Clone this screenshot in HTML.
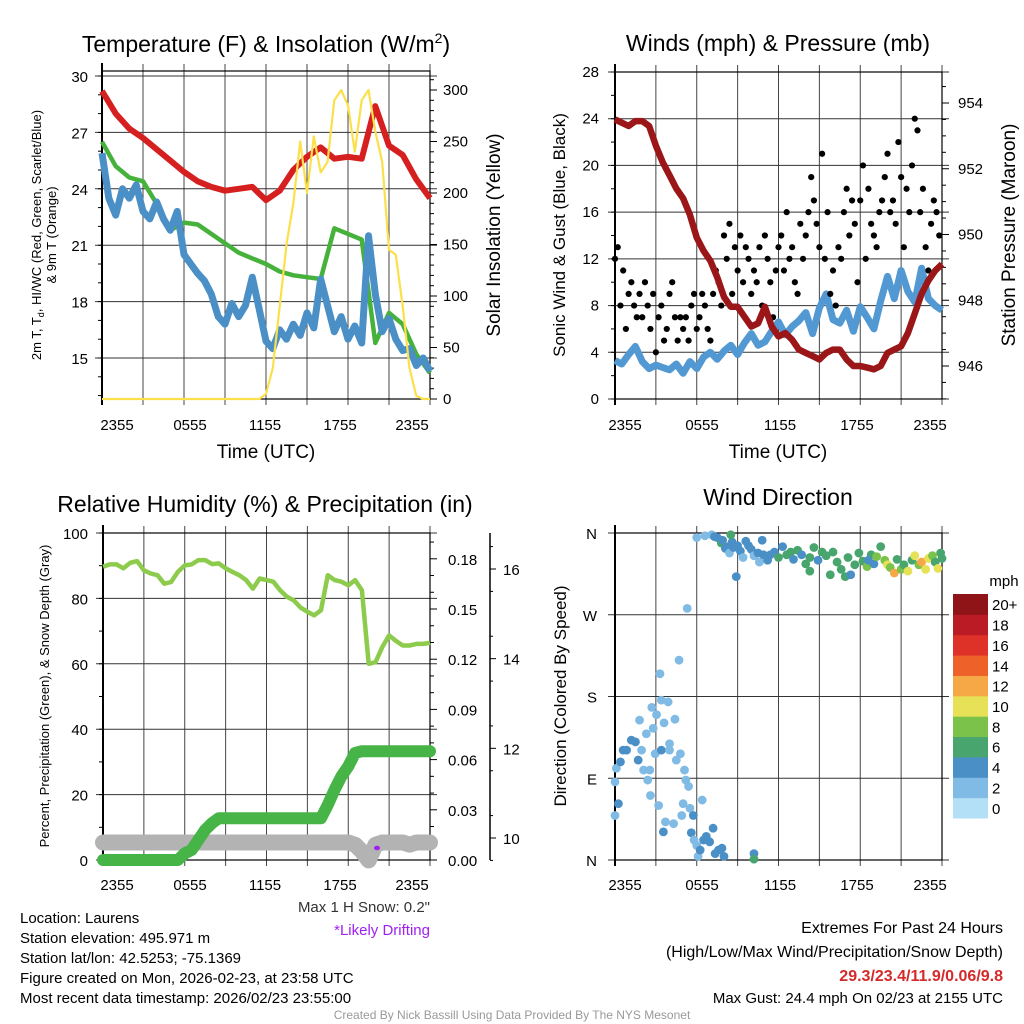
<!DOCTYPE html>
<html><head><meta charset="utf-8"><style>
html,body{margin:0;padding:0;background:#fff;}
svg{display:block;font-family:"Liberation Sans",Arial,sans-serif;}
</style></head><body>
<svg id="fig" width="1024" height="1024" viewBox="0 0 1024 1024" xmlns="http://www.w3.org/2000/svg">
<rect width="1024" height="1024" fill="#fff"/>
<g id="p1"></g>
<g id="p2"></g>
<g id="p3"></g>
<g id="p4"></g>
<g fill="#000">
<text x="266" y="52" font-size="23" text-anchor="middle">Temperature (F) &amp; Insolation (W/m<tspan dy="-9" font-size="14">2</tspan><tspan dy="9">)</tspan></text>
<text x="778" y="51" font-size="23" text-anchor="middle">Winds (mph) &amp; Pressure (mb)</text>
<text x="265" y="512" font-size="23" text-anchor="middle">Relative Humidity (%) &amp; Precipitation (in)</text>
<text x="778" y="505" font-size="23" text-anchor="middle">Wind Direction</text>
<text x="266" y="458" font-size="19" text-anchor="middle">Time (UTC)</text>
<text x="778" y="458" font-size="19" text-anchor="middle">Time (UTC)</text>
<text transform="translate(41,235) rotate(-90)" font-size="13" text-anchor="middle">2m T, T<tspan dy="3" font-size="9">d</tspan><tspan dy="-3">, HI/WC (Red, Green, Scarlet/Blue)</tspan></text>
<text transform="translate(56,235) rotate(-90)" font-size="13" text-anchor="middle">&amp; 9m T (Orange)</text>
<text transform="translate(500,235) rotate(-90)" font-size="19" text-anchor="middle">Solar Insolation (Yellow)</text>
<text transform="translate(565,235) rotate(-90)" font-size="17" text-anchor="middle">Sonic Wind &amp; Gust (Blue, Black)</text>
<text transform="translate(1015,235) rotate(-90)" font-size="19" text-anchor="middle">Station Pressure (Maroon)</text>
<text transform="translate(49,696) rotate(-90)" font-size="13" text-anchor="middle">Percent, Precipitation (Green), &amp; Snow Depth (Gray)</text>
<text transform="translate(566,696) rotate(-90)" font-size="17" text-anchor="middle">Direction (Colored By Speed)</text>
<text x="1004" y="586" font-size="15" text-anchor="middle">mph</text>
<text x="430" y="912" font-size="15" text-anchor="end" fill="#333">Max 1 H Snow: 0.2"</text>
<text x="430" y="935" font-size="15" text-anchor="end" fill="#a020f0">*Likely Drifting</text>
<text x="20" y="923" font-size="15">Location: Laurens</text>
<text x="20" y="943" font-size="15">Station elevation: 495.971 m</text>
<text x="20" y="963" font-size="15">Station lat/lon: 42.5253; -75.1369</text>
<text x="20" y="983" font-size="15">Figure created on Mon, 2026-02-23, at 23:58 UTC</text>
<text x="20" y="1003" font-size="15">Most recent data timestamp: 2026/02/23 23:55:00</text>
<text x="1003" y="933" font-size="16" text-anchor="end">Extremes For Past 24 Hours</text>
<text x="1003" y="957" font-size="16" text-anchor="end">(High/Low/Max Wind/Precipitation/Snow Depth)</text>
<text x="1003" y="981" font-size="16" font-weight="bold" text-anchor="end" fill="#d42a2a">29.3/23.4/11.9/0.06/9.8</text>
<text x="1003" y="1003" font-size="15" text-anchor="end">Max Gust: 24.4 mph On 02/23 at 2155 UTC</text>
<text x="512" y="1019" font-size="12" text-anchor="middle" fill="#999">Created By Nick Bassill Using Data Provided By The NYS Mesonet</text>
</g>
</svg>
<script>
// ---------- data ----------
const xTickLabels = ["2355","0555","1155","1755","2355"];
const tempTicks = [15,18,21,24,27,30];
const solarTicks = [0,50,100,150,200,250,300];
const windTicks = [0,4,8,12,16,20,24,28];
const presTicks = [946,948,950,952,954];
const rhTicks = [0,20,40,60,80,100];
const precipTicks = [0.00,0.03,0.06,0.09,0.12,0.15,0.18];
const snowTicks = [10,12,14,16];
const dirLabels = ["N","E","S","W","N"];
const speedBinLabels = ["0","2","4","6","8","10","12","14","16","18","20+"];
const speedColors = ["#b3e0f7","#7fbbe4","#4a8fc6","#48a56e","#7bc24b","#e6e157","#f5a845","#ee622a","#de3128","#bb1b25","#8f1418"];

// hourly (25 pts)
const tempRed = [29.2,28.0,27.2,26.7,26.1,25.5,24.9,24.4,24.1,23.9,24.0,24.1,23.4,23.9,25.0,25.7,26.2,25.6,25.7,25.6,28.4,26.3,25.8,24.5,23.5];
const tempGreen = [26.5,25.2,24.6,24.4,23.2,21.8,22.2,22.1,21.6,21.1,20.6,20.3,20.0,19.6,19.4,19.3,19.2,21.9,21.6,21.3,15.8,17.4,16.8,15.2,14.2];
// half-hourly (49 pts)
const tempBlue = [25.9,23.5,22.6,24.0,23.5,24.2,22.8,22.4,23.3,22.4,21.8,22.8,20.5,20.0,19.5,19.1,18.4,17.2,16.8,17.9,17.2,17.8,19.3,17.6,15.9,15.5,16.5,16.0,16.8,16.2,17.4,16.6,19.2,17.8,16.4,17.2,16.0,16.7,15.8,21.5,18.4,16.4,17.1,16.0,15.4,15.5,14.6,15.0,14.3];
const solar = [0,0,0,0,0,0,0,0,0,0,0,0,0,0,0,0,0,0,0,0,0,0,0,0,5,30,90,150,190,250,200,255,220,230,290,300,285,240,290,300,260,230,145,140,90,30,3,0,0];
const windSust = [3.3,3.0,3.8,4.5,3.2,2.6,2.9,2.7,2.5,3.0,2.2,3.2,2.6,3.6,4.0,3.4,4.1,4.6,3.8,4.8,5.6,4.6,4.9,5.8,6.6,5.5,6.2,6.7,7.4,5.6,7.8,9.0,6.8,6.5,7.6,5.8,7.9,7.0,6.0,8.4,10.5,8.6,11.0,9.2,8.3,11.2,8.6,8.0,7.6];
// gusts every 12 min (120 pts)
const windGust = [12,13,8,11,6,9,10,8,7,9, 7,10,8,6,9,4,7,8,5,6, 9,10,7,5,7,6,7,5,8,9, 6,7,9,8,6,5,9,11,10,8, 14,12,15,9,13,11,14,10,13,12, 9,11,10,13,8,14,12,10,7,11, 13,14,11,16,12,13,10,9,15,12, 14,16,19,17,15,13,21,12,16,9, 11,8,13,12,16,18,14,17,15,10, 17,20,12,18,15,14,13,16,17,19, 21,16,17,15,22,19,13,18,16,20, 24,23,16,18,13,11,15,17,16,14];
const pressure = [953.5,953.4,953.3,953.45,953.45,953.3,952.7,952.2,951.8,951.4,951.1,950.6,949.9,949.5,949.2,948.7,948.1,947.8,947.8,947.5,947.2,947.3,947.8,947.2,946.9,947.0,946.8,946.5,946.4,946.3,946.2,946.4,946.5,946.5,946.2,946.0,946.0,945.95,945.9,946.0,946.4,946.5,946.6,947.0,947.6,948.2,948.6,948.9,949.1];
const rh = [89.7,90.4,90.4,89.2,90.9,91.4,88.6,87.6,87.1,84.5,85.0,88.1,90.1,90.4,91.7,91.7,90.5,90.7,89.2,88.1,87.1,85.6,83.0,86.1,85.6,85.1,82.5,80.5,79.4,77.2,75.9,74.8,76.4,87.1,85.6,85.1,84.0,85.6,82.5,60.0,60.5,65.1,68.7,67.0,65.6,65.6,66.1,66.1,66.4];
const precip = [0,0,0,0,0,0,0,0,0,0,0,0,0.004,0.006,0.012,0.018,0.022,0.025,0.025,0.025,0.025,0.025,0.025,0.025,0.025,0.025,0.025,0.025,0.025,0.025,0.025,0.025,0.025,0.033,0.042,0.050,0.056,0.064,0.065,0.065,0.065,0.065,0.065,0.065,0.065,0.065,0.065,0.065,0.065];
const snowDepth = [9.9,9.9,9.9,9.9,9.9,9.9,9.9,9.9,9.9,9.9,9.9,9.9,9.9,9.9,9.9,9.9,9.9,9.9,9.9,9.9,9.9,9.9,9.9,9.9,9.9,9.9,9.9,9.9,9.9,9.9,9.9,9.9,9.9,9.9,9.9,9.9,9.9,9.85,9.7,9.5,9.85,9.9,9.9,9.9,9.9,9.85,9.9,9.9,9.9];
// wind direction points
const dirTimes = [0,0,0.25,0.1,0.4,0.6,0.85,1.2,1.5,1.7,1.8,1.95,2.1,2.3,2.4,2.55,2.6,2.7,2.8,2.95,3.05,3.2,3.3,3.4,3.4,3.55,3.6,3.7,3.9,4.0,4.0,4.3,4.4,4.5,4.7,4.8,4.9,5.0,5.1,5.2,5.4,5.5,5.6,5.75,5.8,6.0,6.1,6.25,6.4,6.5,6.7,6.95,7.2,7.35,7.6,7.85,8.0,10.2,10.2,5.3,8.9,
6.0,6.6,7.1,7.3,7.5,7.8,7.9,8.1,8.3,8.4,8.6,8.7,9.0,9.2,9.4,9.6,9.8,10.0,10.2,10.5,10.6,10.9,11.2,11.4,11.7,12.0,12.3,12.6,12.9,13.1,13.4,13.7,14.0,14.3,14.6,14.9,15.2,15.5,15.8,16.0,16.3,16.6,16.9,17.1,17.3,17.6,17.9,18.2,18.5,18.8,19.0,19.2,19.5,19.8,20.0,20.2,20.5,20.7,21.0,21.2,21.5,21.8,22.0,22.3,22.5,22.8,23.0,23.3,23.5,23.7,23.9,24.0,8.5,10.8,18.6,14.3];
const dirValues = [49,86,62,101,108,121,121,132,130,110,154,121,99,139,88,99,71,168,145,117,160,60,205,176,121,31,151,42,174,121,128,40,155,110,220,117,49,62,99,88,81,57,30,49,22,16,4,11,66,22,26,20,35,7,11,13,4,7,1,277,312,
355,357,358,356,355,349,352,343,345,338,350,344,346,340,333,351,346,342,335,338,328,336,330,336,339,333,345,336,339,331,341,336,326,333,344,330,339,335,314,339,328,320,312,333,314,325,338,329,323,336,326,334,345,330,325,322,316,331,320,325,318,330,335,325,328,320,332,335,328,321,338,332,358,352,330,318];
const dirSpeeds = [3,3,5,3,5,5,5,5,5,5,3,3,3,3,3,3,3,3,3,3,3,3,3,3,5,5,3,3,3,3,3,3,3,3,3,3,3,3,3,3,3,3,5,5,3,3,3,5,3,5,5,5,5,5,5,5,5,5,7,3,5,
2.5,2.5,2.5,4,4,7,4.5,4,4,3,5,5,4,4.5,2.5,4.5,5,4.5,3,4.5,2.5,4,4.5,5.5,5.5,6,4.5,6,6,5.5,6,5.5,7,6,7,5,7,7.5,6,6.5,6,6,6,7.5,5,6,7.5,7.5,8,7,4.5,8,7.5,9,10,9.5,12,6,9,7,10,6.5,10,8,12,10,10,8,7,10,7,7,6,5,4.5,6.5];

// ---------- helpers ----------
const NS = "http://www.w3.org/2000/svg";
function mk(parent, tag, attrs, txt){
  const e = document.createElementNS(NS, tag);
  for (const k in attrs) e.setAttribute(k, attrs[k]);
  if (txt !== undefined) e.textContent = txt;
  parent.appendChild(e);
  return e;
}
function lin(d0,d1,r0,r1){ return v => r0 + (v-d0)/(d1-d0)*(r1-r0); }
function pathFrom(xs, ys){ return xs.map((x,i)=>(i?"L":"M")+x.toFixed(1)+","+ys[i].toFixed(1)).join(""); }

function frame(g, L, R, T, B, hTicksY, extraTop){
  for (let i=0;i<=8;i++){
    const x = L + (R-L)*i/8;
    const ln = mk(g,"line",{x1:x,x2:x,y1:T-(extraTop||0)-7,y2:B+6,stroke:"#444","stroke-width":1});
    
    
  }
  hTicksY.forEach(y=>{
    const ln = mk(g,"line",{x1:L-7,x2:R+7,y1:y,y2:y,stroke:"#333","stroke-width":1});
    
    
  });
  const bx = mk(g,"rect",{x:L,y:T,width:R-L,height:B-T,fill:"none",stroke:"#000","stroke-width":1.2});
  
  
  const la = mk(g,"line",{x1:L,x2:L,y1:T-8,y2:B+6,stroke:"#000","stroke-width":2});
  
  
}
function xLabels(g, xs, y){
  xTickLabels.forEach((s,i)=>{
    const t = mk(g,"text",{x:xs[i],y:y,"font-size":15,"text-anchor":"middle"},s);
    
    
  });
}

// ---------- panel 1 ----------
(function(){
  const g = document.getElementById("p1");
  const L=102,R=430,T=71,B=399;
  const x = lin(0,24,L,R), y = lin(30,15,76,358), ys = lin(0,300,399,90);
  frame(g,L,R,T,B,tempTicks.map(y),0);
  for (let v=13; v<=30; v++){ const t=mk(g,"line",{x1:L-4,x2:L,y1:y(v),y2:y(v),stroke:"#000"});   }
  tempTicks.forEach(v=>{ const t=mk(g,"text",{x:88,y:y(v)+6,"font-size":15,"text-anchor":"end"},v);   });
  for (let v=0; v<=310; v+=10){ const t=mk(g,"line",{x1:R,x2:R+(v%50?4:7),y1:ys(v),y2:ys(v),stroke:"#000"});   }
  solarTicks.forEach(v=>{ const t=mk(g,"text",{x:443,y:ys(v)+5,"font-size":15},v);   });
  const th = tempRed.map((_,i)=>x(i)), th2 = tempBlue.map((_,i)=>x(i/2));
  const pr = mk(g,"path",{d:pathFrom(th,tempRed.map(y)),fill:"none",stroke:"#d62020","stroke-width":6,"stroke-linejoin":"round"});
   
  const pg = mk(g,"path",{d:pathFrom(th,tempGreen.map(y)),fill:"none",stroke:"#46b23c","stroke-width":4.5,"stroke-linejoin":"round"});
   
  const pb = mk(g,"path",{d:pathFrom(th2,tempBlue.map(y)),fill:"none",stroke:"#4a8fc6","stroke-width":7,"stroke-linejoin":"round"});
   
  const py = mk(g,"path",{d:pathFrom(th2,solar.map(ys)),fill:"none",stroke:"#fbe04b","stroke-width":2.2,"stroke-linejoin":"round"});
   
  xLabels(g,[117,190,265,340,412],430);
})();

// ---------- panel 2 ----------
(function(){
  const g = document.getElementById("p2");
  const L=615,R=942,T=72,B=399;
  const x = lin(0,24,L,R), y = lin(0,28,399,72), yp = lin(954,946,103,366);
  frame(g,L,R,T,B,windTicks.map(y),0);
  for (let v=0; v<=28; v+=2){ const t=mk(g,"line",{x1:L-4,x2:L,y1:y(v),y2:y(v),stroke:"#000"});   }
  windTicks.forEach(v=>{ const t=mk(g,"text",{x:599,y:y(v)+5,"font-size":15,"text-anchor":"end"},v);   });
  for (let v=945; v<=954.8; v+=0.5){ const t=mk(g,"line",{x1:R,x2:R+(Math.abs(v-Math.round(v))<0.01&&Math.round(v)%2===0?7:4),y1:yp(v),y2:yp(v),stroke:"#000"});   }
  presTicks.forEach(v=>{ const t=mk(g,"text",{x:958,y:yp(v)+5,"font-size":15},v);   });
  const pb = mk(g,"path",{d:pathFrom(windSust.map((_,i)=>x(i/2)),windSust.map(y)),fill:"none",stroke:"#5299d3","stroke-width":7,"stroke-linejoin":"round"});
   
  windGust.forEach((v,i)=>{
    const c = mk(g,"circle",{cx:x(i*0.2),cy:y(v),r:3.1,fill:"#000"});
    
    
  });
  const pp = mk(g,"path",{d:pathFrom(pressure.map((_,i)=>x(i/2)),pressure.map(yp)),fill:"none",stroke:"#9b1618","stroke-width":6.5,"stroke-linejoin":"round"});
   
  xLabels(g,[625,702,780,857,930],430);
})();

// ---------- panel 3 ----------
(function(){
  const g = document.getElementById("p3");
  const L=103,R=430,T=533,B=860;
  const x = lin(0,24,L,R), y = lin(0,100,860,533), yp = lin(0,0.03,860,809.8), ysn = lin(10,16,838,569);
  frame(g,L,R,T,B,rhTicks.map(y),0);
  for (let v=0; v<=100; v+=10){ const t=mk(g,"line",{x1:L-4,x2:L,y1:y(v),y2:y(v),stroke:"#000"});   }
  rhTicks.forEach(v=>{ const t=mk(g,"text",{x:88,y:y(v)+6,"font-size":15,"text-anchor":"end"},v);   });
  for (let v=0; v<=0.195; v+=0.01){ const t=mk(g,"line",{x1:R,x2:R+(Math.round(v*100)%3===0?7:4),y1:yp(v),y2:yp(v),stroke:"#000"});   }
  precipTicks.forEach(v=>{ const t=mk(g,"text",{x:448,y:yp(v)+6,"font-size":15},v.toFixed(2));   });
  const sa = mk(g,"line",{x1:490,x2:490,y1:533,y2:860,stroke:"#000","stroke-width":1.5});
   
  for (let v=9.5; v<=17; v+=1){ const t=mk(g,"line",{x1:490,x2:493,y1:ysn(v),y2:ysn(v),stroke:"#000"});   }
  snowTicks.forEach(v=>{ const t=mk(g,"line",{x1:490,x2:496,y1:ysn(v),y2:ysn(v),stroke:"#000"});  
    const l=mk(g,"text",{x:503,y:ysn(v)+6,"font-size":15},v);   });
  const xs = rh.map((_,i)=>x(i/2));
  const ps = mk(g,"path",{d:pathFrom(xs,snowDepth.map(ysn)),fill:"none",stroke:"#b3b3b3","stroke-width":16,"stroke-linecap":"round","stroke-linejoin":"round"});
   
  const pp = mk(g,"path",{d:pathFrom(xs,precip.map(yp)),fill:"none",stroke:"#46b446","stroke-width":12,"stroke-linecap":"round","stroke-linejoin":"round"});
   
  const pr = mk(g,"path",{d:pathFrom(xs,rh.map(y)),fill:"none",stroke:"#8dcb4c","stroke-width":4.5,"stroke-linejoin":"round"});
   
  const dot = mk(g,"ellipse",{cx:377,cy:848,rx:3,ry:2.3,fill:"#a020f0"});
   
  xLabels(g,[117,190,265,340,412],890);
})();

// ---------- panel 4 ----------
(function(){
  const g = document.getElementById("p4");
  const L=615,R=942,T=533,B=860;
  const x = lin(0,24,L,R), y = lin(0,360,860,533);
  frame(g,L,R,T,B,[0,90,180,270,360].map(y),0);
  dirLabels.forEach((s,i)=>{ const t=mk(g,"text",{x:597,y:y(i*90)+6,"font-size":15,"text-anchor":"end"},s);   });
  dirTimes.forEach((t,i)=>{
    const bin = Math.min(10, Math.floor(dirSpeeds[i]/2));
    const c = mk(g,"circle",{cx:x(t),cy:y(dirValues[i]),r:4.4,fill:speedColors[bin]});
    
    
  });
  const ybin = lin(0,11,818,594);
  speedColors.forEach((c,i)=>{
    const r = mk(g,"rect",{x:953,y:ybin(i+1),width:35,height:ybin(i)-ybin(i+1)+0.5,fill:c});
    
    
    const t = mk(g,"text",{x:992,y:(ybin(i)+ybin(i+1))/2+6,"font-size":15},speedBinLabels[i]);
    
    
  });
  xLabels(g,[625,702,780,857,930],890);
})();
</script>
</body></html>
